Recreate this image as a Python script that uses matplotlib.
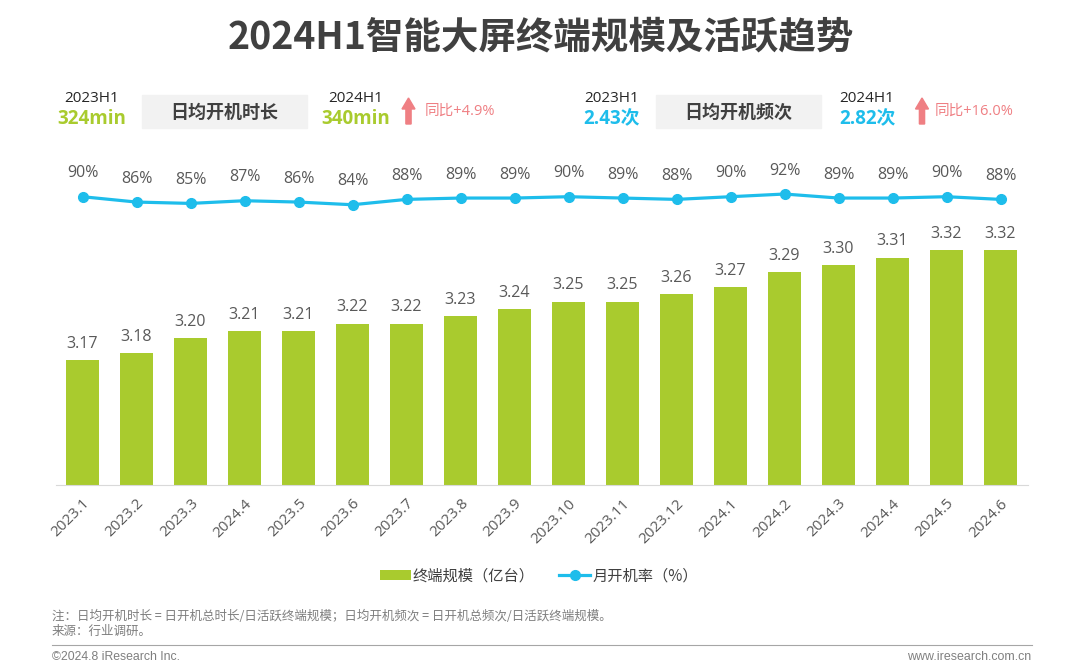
import numpy as np
import matplotlib
matplotlib.use('Agg')
import matplotlib.pyplot as plt
from matplotlib.patches import Rectangle, Polygon
from matplotlib.lines import Line2D

plt.rcParams['font.family'] = ['Open Sans', 'Noto Sans CJK SC', 'DejaVu Sans']
CJK = ['Noto Sans CJK SC', 'DejaVu Sans']

# data
months = ['2023.1', '2023.2', '2023.3', '2024.4', '2023.5', '2023.6', '2023.7',
          '2023.8', '2023.9', '2023.10', '2023.11', '2023.12', '2024.1',
          '2024.2', '2024.3', '2024.4', '2024.5', '2024.6']
scale = [3.17, 3.18, 3.20, 3.21, 3.21, 3.22, 3.22, 3.23, 3.24, 3.25, 3.25,
         3.26, 3.27, 3.29, 3.30, 3.31, 3.32, 3.32]
on_rate = [90, 86, 85, 87, 86, 84, 88, 89, 89, 90, 89, 88, 90, 92, 89, 89, 90, 88]

GREEN = '#A9CB2E'
BLUE = '#1EBDEB'
PINK = '#EF7F83'
GREY_TXT = '#595959'

W, H = 1080, 671
fig = plt.figure(figsize=(W / 100, H / 100), dpi=100)


def fx(x):
    return x / W


def fy(y):
    return 1 - y / H


# main axes, positioned in pixels
left, right, top, bottom = 55.5, 1027.5, 150, 485
ax = fig.add_axes([fx(left), fy(bottom), (right - left) / W, (bottom - top) / H])
x = np.arange(len(months))
bars = ax.bar(x, scale, width=0.61, color=GREEN, zorder=2, label='终端规模（亿台）')
ax.set_ylim(3.0, 3.4568)
ax.set_xlim(-0.5, len(months) - 0.5)
for xi, v in zip(x, scale):
    ax.annotate('%.2f' % v, (xi, v), xytext=(0, 6), textcoords='offset points',
                ha='center', va='bottom', fontsize=11.5, color=GREY_TXT)

for s in ['top', 'right', 'left']:
    ax.spines[s].set_visible(False)
ax.spines['bottom'].set_color('#D9D9D9')
ax.set_yticks([])
ax.set_xticks(x)
ax.set_xticklabels(months, rotation=45, ha='right', rotation_mode='anchor',
                   fontsize=11, color=GREY_TXT)
ax.tick_params(axis='x', length=0, pad=8)

ax2 = ax.twinx()
line, = ax2.plot(x, on_rate, color=BLUE, lw=2.3, marker='o', markersize=7,
                 zorder=3, label='月开机率（%）')
ax2.set_ylim(-125.1, 124.85)
ax2.axis('off')
for xi, v in zip(x, on_rate):
    ax2.annotate('%d%%' % v, (xi, v), xytext=(0, 11), textcoords='offset points',
                 ha='center', va='bottom', fontsize=11.5, color=GREY_TXT)

# title
fig.text(fx(541), fy(37), '2024H1智能大屏终端规模及活跃趋势', ha='center',
         va='center', fontsize=27, fontweight='bold', color='#404040', family=CJK)


def up_arrow(xc, ytop, ybot):
    # small upward arrow drawn in pixel coordinates
    hw, hh, sw = 6.5, 11, 2.6
    pts = [(xc, ytop), (xc + hw, ytop + hh), (xc + sw, ytop + hh), (xc + sw, ybot),
           (xc - sw, ybot), (xc - sw, ytop + hh), (xc - hw, ytop + hh)]
    fig.patches.append(Polygon([(fx(a), fy(b)) for a, b in pts], closed=True,
                               transform=fig.transFigure, color=PINK))


def header(x0, box0, box1, x2, xa, xt, name, old, new, color, change):
    fig.text(fx(x0), fy(99), '2023H1', ha='center', va='center', fontsize=11, color='#262626')
    fig.text(fx(x0), fy(119), old, ha='center', va='center', fontsize=13.5,
             fontweight='bold', color=color)
    fig.patches.append(Rectangle((fx(box0), fy(128)), (box1 - box0) / W, 33 / H,
                                 transform=fig.transFigure, color='#F2F2F2'))
    fig.text(fx((box0 + box1) / 2), fy(112), name, ha='center', va='center',
             fontsize=13, fontweight='bold', color='#404040', family=CJK)
    fig.text(fx(x2), fy(99), '2024H1', ha='center', va='center', fontsize=11, color='#262626')
    fig.text(fx(x2), fy(119), new, ha='center', va='center', fontsize=13.5,
             fontweight='bold', color=color)
    up_arrow(xa, 98, 124)
    fig.text(fx(xt), fy(111), change, ha='left', va='center', fontsize=10.5, color=PINK)


header(92, 142, 307, 356, 408.5, 425, '日均开机时长', '324min', '340min', GREEN, '同比+4.9%')
header(612, 656, 821, 867, 922, 935, '日均开机频次', '2.43次', '2.82次', BLUE, '同比+16.0%')

# legend
fig.legend(handles=[bars, line], loc='center', bbox_to_anchor=(fx(539), fy(576)),
           ncol=2, frameon=False, handlelength=2.0, handleheight=0.6, handletextpad=0.15,
           columnspacing=1.6, labelcolor='#404040', prop={'family': CJK, 'size': 11})

# notes and footer
fig.text(fx(52), fy(616), '注：日均开机时长 = 日开机总时长/日活跃终端规模；日均开机频次 = 日开机总频次/日活跃终端规模。',
         ha='left', va='center', fontsize=9, color='#7F7F7F', family=CJK)
fig.text(fx(52), fy(631), '来源：行业调研。', ha='left', va='center', fontsize=9,
         color='#7F7F7F', family=CJK)
fig.lines.append(Line2D([fx(52), fx(1032)], [fy(645), fy(645)], transform=fig.transFigure,
                        color='#A6A6A6', lw=0.8))
fig.text(fx(52), fy(657), '©2024.8 iResearch Inc.', ha='left', va='center',
         fontsize=8.8, color='#7F7F7F', family=['Liberation Sans', 'DejaVu Sans'])
fig.text(fx(1031), fy(657), 'www.iresearch.com.cn', ha='right', va='center',
         fontsize=8.9, color='#7F7F7F', family=['Liberation Sans', 'DejaVu Sans'])

fig.savefig('out.png', dpi=100, facecolor='white')
